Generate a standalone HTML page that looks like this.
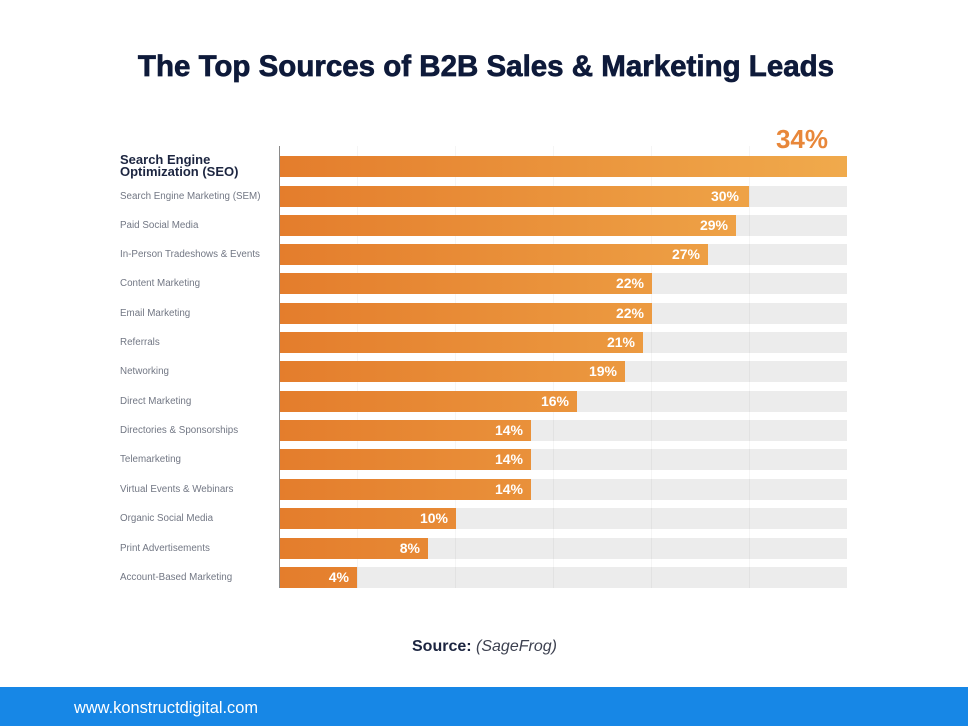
<!DOCTYPE html>
<html><head><meta charset="utf-8">
<style>
html,body{margin:0;padding:0;}
body{width:968px;height:726px;position:relative;background:#fff;overflow:hidden;font-family:"Liberation Sans",sans-serif;}
.abs{position:absolute;}
.title{left:2px;width:968px;top:51px;line-height:32px;font-size:29.5px;font-weight:bold;color:#0e1a3a;text-align:center;letter-spacing:0;white-space:nowrap;-webkit-text-stroke:0.7px #0e1a3a;}
.track{position:absolute;left:280px;width:567px;height:21px;background:#ececec;}
.grid{position:absolute;top:146px;height:442px;width:1px;background:rgba(0,0,0,0.04);}
.bar{position:absolute;left:280px;height:21px;background:linear-gradient(90deg,#e47d2c,#f0aa4c);background-size:567px 100%;background-repeat:no-repeat;}
.val{position:absolute;right:8px;top:0;line-height:21px;font-size:14px;font-weight:bold;color:#fff;}
.lab{position:absolute;left:120px;height:21px;line-height:21px;font-size:9.8px;color:#727784;white-space:nowrap;}
</style></head>
<body>
<div class="abs title">The Top Sources of B2B Sales &amp; Marketing Leads</div>

<div class="abs" style="left:700px;width:128px;top:124px;line-height:30px;font-size:26px;font-weight:bold;color:#e8873a;text-align:right;">34%</div>

<div class="abs" style="left:120px;top:154px;line-height:12.3px;font-size:13px;font-weight:bold;color:#1c2540;white-space:nowrap;">Search Engine<br>Optimization (SEO)</div>

<!-- tracks -->
<div class="track" style="top:156px"></div>
<div class="track" style="top:186px"></div>
<div class="track" style="top:215px"></div>
<div class="track" style="top:244px"></div>
<div class="track" style="top:273px"></div>
<div class="track" style="top:303px"></div>
<div class="track" style="top:332px"></div>
<div class="track" style="top:361px"></div>
<div class="track" style="top:391px"></div>
<div class="track" style="top:420px"></div>
<div class="track" style="top:449px"></div>
<div class="track" style="top:479px"></div>
<div class="track" style="top:508px"></div>
<div class="track" style="top:538px"></div>
<div class="track" style="top:567px"></div>

<!-- grid -->
<div class="grid" style="left:357px"></div>
<div class="grid" style="left:455px"></div>
<div class="grid" style="left:553px"></div>
<div class="grid" style="left:651px"></div>
<div class="grid" style="left:749px"></div>

<!-- axis -->
<div class="abs" style="left:279px;top:146px;width:1px;height:442px;background:#8a8a8a;"></div>

<!-- bars -->
<div class="bar" style="top:156px;width:567px"></div>
<div class="bar" style="top:186px;width:469px"><span class="val" style="right:10px">30%</span></div>
<div class="bar" style="top:215px;width:456px"><span class="val">29%</span></div>
<div class="bar" style="top:244px;width:428px"><span class="val">27%</span></div>
<div class="bar" style="top:273px;width:372px"><span class="val">22%</span></div>
<div class="bar" style="top:303px;width:372px"><span class="val">22%</span></div>
<div class="bar" style="top:332px;width:363px"><span class="val">21%</span></div>
<div class="bar" style="top:361px;width:345px"><span class="val">19%</span></div>
<div class="bar" style="top:391px;width:297px"><span class="val">16%</span></div>
<div class="bar" style="top:420px;width:251px"><span class="val">14%</span></div>
<div class="bar" style="top:449px;width:251px"><span class="val">14%</span></div>
<div class="bar" style="top:479px;width:251px"><span class="val">14%</span></div>
<div class="bar" style="top:508px;width:176px"><span class="val">10%</span></div>
<div class="bar" style="top:538px;width:148px"><span class="val">8%</span></div>
<div class="bar" style="top:567px;width:77px"><span class="val">4%</span></div>

<!-- labels -->
<div class="lab" style="top:186px">Search Engine Marketing (SEM)</div>
<div class="lab" style="top:215px">Paid Social Media</div>
<div class="lab" style="top:244px">In-Person Tradeshows &amp; Events</div>
<div class="lab" style="top:273px">Content Marketing</div>
<div class="lab" style="top:303px">Email Marketing</div>
<div class="lab" style="top:332px">Referrals</div>
<div class="lab" style="top:361px">Networking</div>
<div class="lab" style="top:391px">Direct Marketing</div>
<div class="lab" style="top:420px">Directories &amp; Sponsorships</div>
<div class="lab" style="top:449px">Telemarketing</div>
<div class="lab" style="top:479px">Virtual Events &amp; Webinars</div>
<div class="lab" style="top:508px">Organic Social Media</div>
<div class="lab" style="top:538px">Print Advertisements</div>
<div class="lab" style="top:567px">Account-Based Marketing</div>

<div class="abs" style="left:412px;top:637px;line-height:20px;font-size:16px;white-space:nowrap;"><b style="color:#1c2540">Source:</b> <i style="color:#3d4150">(SageFrog)</i></div>

<div class="abs" style="left:0;top:687px;width:968px;height:39px;background:#1787e6;"></div>
<div class="abs" style="left:74px;top:698px;line-height:20px;font-size:16.4px;color:#fff;white-space:nowrap;">www.konstructdigital.com</div>
</body></html>
